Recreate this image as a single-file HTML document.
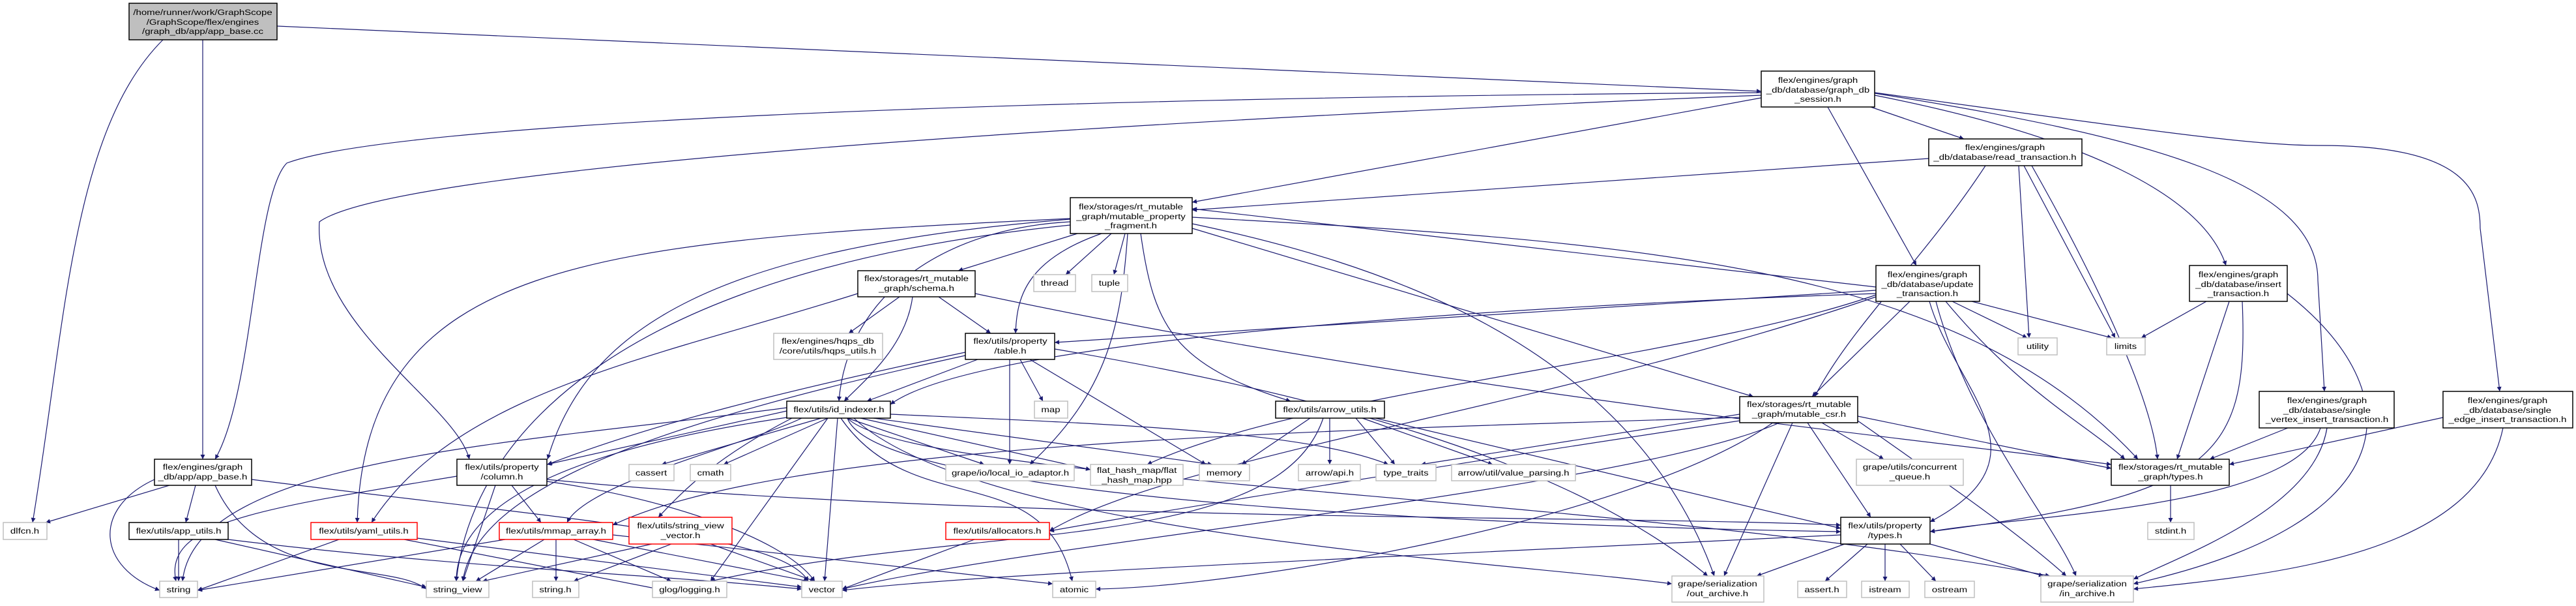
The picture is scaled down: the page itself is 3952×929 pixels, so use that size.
<!DOCTYPE html>
<html><head><meta charset="utf-8"><style>
html,body{margin:0;padding:0;background:#fff;}
svg{display:block;}
text{font-family:"Liberation Sans",sans-serif;font-size:12px;fill:#000;text-anchor:middle;}
.e{fill:none;stroke:#191970;stroke-width:1.2;marker-end:url(#a);}
.b{fill:#fff;stroke:#000;stroke-width:1.5;}
.g{fill:#fff;stroke:#bfbfbf;stroke-width:1.5;}
.r{fill:#fff;stroke:#ff0000;stroke-width:1.5;}
</style></head><body>
<svg width="3952" height="929" viewBox="0 0 3952 929" xmlns="http://www.w3.org/2000/svg">
<defs><marker id="a" viewBox="0 0 10 10" refX="10" refY="5" markerWidth="9" markerHeight="7" markerUnits="userSpaceOnUse" orient="auto"><path d="M0,0 L10,5 L0,10 z" fill="#191970"/></marker></defs>
<g>
<path class="e" d="M425 40 L2702 140"/>
<path class="e" d="M250 61 C110 200 100 500 50 801"/>
<path class="e" d="M311 61 L311 704"/>
<path class="e" d="M2702 142 C1500 150 600 190 440 250 C390 300 390 600 330 704"/>
<path class="e" d="M2702 146 C1600 190 600 260 490 340 C480 500 700 620 720 704"/>
<path class="e" d="M2702 150 L1829 310"/>
<path class="e" d="M2870 164 L3013 213"/>
<path class="e" d="M2804 164 L2940 407"/>
<path class="e" d="M2876 146 C3200 210 3380 300 3415 407"/>
<path class="e" d="M2876 143 C3300 210 3556 280 3556 430 L3566 600"/>
<path class="e" d="M2876 142 C3300 200 3450 223 3560 223 C3790 223 3805 300 3805 350 L3835 600"/>
<path class="e" d="M2959 243 L1829 322"/>
<path class="e" d="M3046 254 C2950 400 2840 500 2784 608"/>
<path class="e" d="M3097 254 L3113 518"/>
<path class="e" d="M3105 254 L3245 518"/>
<path class="e" d="M3117 254 C3200 400 3300 600 3310 704"/>
<path class="e" d="M1653 358 L1470 415"/>
<path class="e" d="M1705 358 L1635 421"/>
<path class="e" d="M1726 358 L1709 421"/>
<path class="e" d="M1690 358 C1570 400 1560 460 1558 511"/>
<path class="e" d="M1642 340 C1450 350 1300 450 1287 615"/>
<path class="e" d="M1642 335 C900 370 560 400 548 801"/>
<path class="e" d="M1642 336 C1100 380 900 500 840 704"/>
<path class="e" d="M1730 358 C1720 500 1700 600 1580 712"/>
<path class="e" d="M1750 358 C1770 500 1800 560 1980 615"/>
<path class="e" d="M1829 350 L2690 608"/>
<path class="e" d="M1829 333 C2500 370 3000 400 3280 704"/>
<path class="e" d="M1829 343 C2100 400 2500 520 2630 883"/>
<path class="e" d="M1642 345 C900 420 720 700 700 891"/>
<path class="e" d="M1380 455 L1302 511"/>
<path class="e" d="M1440 455 L1520 511"/>
<path class="e" d="M1400 455 C1390 530 1330 580 1295 615"/>
<path class="e" d="M1496 450 C2200 600 3000 680 3239 712"/>
<path class="e" d="M1316 450 C1000 550 700 600 570 801"/>
<path class="e" d="M1565 551 L1600 615"/>
<path class="e" d="M1580 551 L1850 712"/>
<path class="e" d="M1549 551 L1549 712"/>
<path class="e" d="M1500 551 L1330 615"/>
<path class="e" d="M1481 540 C1200 600 1000 650 840 712"/>
<path class="e" d="M1618 535 C2000 600 2400 700 2620 883"/>
<path class="e" d="M1481 545 C1000 650 730 750 710 891"/>
<path class="e" d="M2878 440 L1829 320"/>
<path class="e" d="M2930 462 L2780 608"/>
<path class="e" d="M2995 462 L3110 518"/>
<path class="e" d="M3025 462 L3240 518"/>
<path class="e" d="M2985 462 C3100 600 3200 650 3260 704"/>
<path class="e" d="M2960 462 C3000 600 3150 700 2961 800"/>
<path class="e" d="M2970 462 C3020 650 3150 800 3185 883"/>
<path class="e" d="M2878 445 L1618 525"/>
<path class="e" d="M2878 450 C2300 470 1500 520 1366 620"/>
<path class="e" d="M2878 452 C2600 550 2000 600 1760 712"/>
<path class="e" d="M2878 455 C2400 620 1800 700 1610 814"/>
<path class="e" d="M3385 462 L3285 518"/>
<path class="e" d="M3420 462 L3340 704"/>
<path class="e" d="M3440 462 C3450 700 3400 760 2961 815"/>
<path class="e" d="M3509 450 C3700 600 3700 800 3273 895"/>
<path class="e" d="M3510 656 L3390 704"/>
<path class="e" d="M3560 656 C3520 780 3100 790 2961 815"/>
<path class="e" d="M3570 656 C3550 780 3350 850 3273 888"/>
<path class="e" d="M3748 640 L3420 712"/>
<path class="e" d="M3840 656 C3800 850 3500 880 3273 903"/>
<path class="e" d="M3330 744 L3330 801"/>
<path class="e" d="M2795 648 L2890 704"/>
<path class="e" d="M2850 638 L3239 718"/>
<path class="e" d="M2773 648 L2870 793"/>
<path class="e" d="M2750 648 L2645 883"/>
<path class="e" d="M2850 645 C3000 750 3100 820 3170 883"/>
<path class="e" d="M2669 640 C2000 660 1200 680 940 805"/>
<path class="e" d="M2669 645 C2300 700 1800 780 1610 814"/>
<path class="e" d="M2720 648 C2500 800 1900 900 1681 903"/>
<path class="e" d="M2730 648 C2500 750 1600 830 1292 903"/>
<path class="e" d="M2669 635 L2180 712"/>
<path class="e" d="M2010 641 L1905 712"/>
<path class="e" d="M2040 641 L2040 712"/>
<path class="e" d="M2080 641 L2140 712"/>
<path class="e" d="M2090 641 L2290 712"/>
<path class="e" d="M2110 641 L2824 810"/>
<path class="e" d="M2030 641 C1960 850 1500 800 1090 891"/>
<path class="e" d="M1260 641 L1015 712"/>
<path class="e" d="M1270 641 L1110 712"/>
<path class="e" d="M1300 641 L1510 712"/>
<path class="e" d="M1320 641 L1673 720"/>
<path class="e" d="M1340 641 L1860 712"/>
<path class="e" d="M1366 635 C1700 650 2000 660 2130 712"/>
<path class="e" d="M1207 630 L839 712"/>
<path class="e" d="M1230 641 C1150 680 900 740 870 801"/>
<path class="e" d="M1215 641 C1100 700 1050 750 1010 793"/>
<path class="e" d="M1285 641 L1265 891"/>
<path class="e" d="M1270 641 L1090 891"/>
<path class="e" d="M1300 641 C1350 780 2500 810 2824 815"/>
<path class="e" d="M1310 641 C1500 820 2300 860 2565 895"/>
<path class="e" d="M1300 641 C1400 740 2500 760 3145 883"/>
<path class="e" d="M1290 641 C1400 800 1600 700 1645 891"/>
<path class="e" d="M1207 625 C800 680 300 700 280 891"/>
<path class="e" d="M1207 640 C800 700 700 800 700 891"/>
<path class="e" d="M785 744 L830 801"/>
<path class="e" d="M760 744 L710 891"/>
<path class="e" d="M701 730 C400 780 250 800 270 891"/>
<path class="e" d="M839 735 C1500 800 2500 790 2824 805"/>
<path class="e" d="M839 738 C1000 760 1200 820 1250 891"/>
<path class="e" d="M260 744 L70 801"/>
<path class="e" d="M300 744 L285 801"/>
<path class="e" d="M237 735 C140 780 150 870 245 905"/>
<path class="e" d="M330 744 C400 900 600 860 654 903"/>
<path class="e" d="M386 735 C900 800 1200 820 1240 891"/>
<path class="e" d="M274 827 L274 891"/>
<path class="e" d="M330 827 L654 900"/>
<path class="e" d="M350 827 C700 870 1000 880 1230 903"/>
<path class="e" d="M520 827 L303 905"/>
<path class="e" d="M640 825 L1230 900"/>
<path class="e" d="M620 827 L1010 903"/>
<path class="e" d="M775 827 L303 905"/>
<path class="e" d="M835 827 L730 891"/>
<path class="e" d="M853 827 L853 891"/>
<path class="e" d="M880 827 L1030 891"/>
<path class="e" d="M910 827 L1240 891"/>
<path class="e" d="M940 820 L1615 895"/>
<path class="e" d="M1000 834 L740 891"/>
<path class="e" d="M1030 834 L880 891"/>
<path class="e" d="M1090 834 L1250 891"/>
<path class="e" d="M1495 827 L1292 903"/>
<path class="e" d="M2830 834 L2695 883"/>
<path class="e" d="M2865 834 L2800 891"/>
<path class="e" d="M2892 834 L2892 891"/>
<path class="e" d="M2915 834 L2970 891"/>
<path class="e" d="M2961 834 L3135 883"/>
<path class="e" d="M2824 820 C2000 860 1500 880 1292 905"/>
</g>
<g>
<!-- nodes -->
<rect x="198" y="5" width="227" height="56" fill="#bfbfbf" stroke="#000" stroke-width="1.5"/>
<text transform="translate(311,23) scale(1.25,1)">/home/runner/work/GraphScope</text>
<text transform="translate(311,38) scale(1.25,1)">/GraphScope/flex/engines</text>
<text transform="translate(311,52) scale(1.25,1)">/graph_db/app/app_base.cc</text>

<rect class="b" x="2702" y="109" width="174" height="55"/>
<text transform="translate(2789,127) scale(1.25,1)">flex/engines/graph</text>
<text transform="translate(2789,142) scale(1.25,1)">_db/database/graph_db</text>
<text transform="translate(2789,156) scale(1.25,1)">_session.h</text>

<rect class="b" x="2959" y="213" width="235" height="41"/>
<text transform="translate(3076,230) scale(1.25,1)">flex/engines/graph</text>
<text transform="translate(3076,245) scale(1.25,1)">_db/database/read_transaction.h</text>

<rect class="b" x="1642" y="303" width="187" height="55"/>
<text transform="translate(1735,321) scale(1.25,1)">flex/storages/rt_mutable</text>
<text transform="translate(1735,336) scale(1.25,1)">_graph/mutable_property</text>
<text transform="translate(1735,350) scale(1.25,1)">_fragment.h</text>

<rect class="b" x="2878" y="407" width="159" height="55"/>
<text transform="translate(2957,425) scale(1.25,1)">flex/engines/graph</text>
<text transform="translate(2957,440) scale(1.25,1)">_db/database/update</text>
<text transform="translate(2957,454) scale(1.25,1)">_transaction.h</text>

<rect class="b" x="3359" y="407" width="150" height="55"/>
<text transform="translate(3434,425) scale(1.25,1)">flex/engines/graph</text>
<text transform="translate(3434,440) scale(1.25,1)">_db/database/insert</text>
<text transform="translate(3434,454) scale(1.25,1)">_transaction.h</text>

<rect class="b" x="1316" y="415" width="180" height="40"/>
<text transform="translate(1406,431) scale(1.25,1)">flex/storages/rt_mutable</text>
<text transform="translate(1406,446) scale(1.25,1)">_graph/schema.h</text>

<rect class="g" x="1586" y="421" width="64" height="26"/>
<text transform="translate(1618,438) scale(1.25,1)">thread</text>
<rect class="g" x="1675" y="421" width="55" height="26"/>
<text transform="translate(1702,438) scale(1.25,1)">tuple</text>

<rect class="g" x="1187" y="511" width="167" height="40"/>
<text transform="translate(1270,527) scale(1.25,1)">flex/engines/hqps_db</text>
<text transform="translate(1270,542) scale(1.25,1)">/core/utils/hqps_utils.h</text>

<rect class="b" x="1481" y="511" width="137" height="40"/>
<text transform="translate(1550,527) scale(1.25,1)">flex/utils/property</text>
<text transform="translate(1550,542) scale(1.25,1)">/table.h</text>

<rect class="g" x="3096" y="518" width="60" height="26"/>
<text transform="translate(3126,535) scale(1.25,1)">utility</text>
<rect class="g" x="3232" y="518" width="59" height="26"/>
<text transform="translate(3261,535) scale(1.25,1)">limits</text>

<rect class="b" x="3466" y="600" width="207" height="56"/>
<text transform="translate(3570,618) scale(1.25,1)">flex/engines/graph</text>
<text transform="translate(3570,633) scale(1.25,1)">_db/database/single</text>
<text transform="translate(3570,647) scale(1.25,1)">_vertex_insert_transaction.h</text>

<rect class="b" x="3748" y="600" width="199" height="56"/>
<text transform="translate(3847,618) scale(1.25,1)">flex/engines/graph</text>
<text transform="translate(3847,633) scale(1.25,1)">_db/database/single</text>
<text transform="translate(3847,647) scale(1.25,1)">_edge_insert_transaction.h</text>

<rect class="b" x="2669" y="608" width="181" height="40"/>
<text transform="translate(2760,624) scale(1.25,1)">flex/storages/rt_mutable</text>
<text transform="translate(2760,639) scale(1.25,1)">_graph/mutable_csr.h</text>

<rect class="b" x="1207" y="615" width="159" height="26"/>
<text transform="translate(1287,632) scale(1.25,1)">flex/utils/id_indexer.h</text>
<rect class="g" x="1587" y="615" width="51" height="26"/>
<text transform="translate(1612,632) scale(1.25,1)">map</text>
<rect class="b" x="1957" y="615" width="167" height="26"/>
<text transform="translate(2040,632) scale(1.25,1)">flex/utils/arrow_utils.h</text>

<rect class="b" x="237" y="704" width="149" height="40"/>
<text transform="translate(311,720) scale(1.25,1)">flex/engines/graph</text>
<text transform="translate(311,735) scale(1.25,1)">_db/app/app_base.h</text>

<rect class="b" x="701" y="704" width="138" height="40"/>
<text transform="translate(770,720) scale(1.25,1)">flex/utils/property</text>
<text transform="translate(770,735) scale(1.25,1)">/column.h</text>

<rect class="g" x="965" y="712" width="69" height="25"/>
<text transform="translate(999,729) scale(1.25,1)">cassert</text>
<rect class="g" x="1059" y="712" width="62" height="25"/>
<text transform="translate(1090,729) scale(1.25,1)">cmath</text>
<rect class="g" x="1451" y="712" width="197" height="25"/>
<text transform="translate(1550,729) scale(1.25,1)">grape/io/local_io_adaptor.h</text>
<rect class="g" x="1673" y="712" width="142" height="32"/>
<text transform="translate(1744,725) scale(1.25,1)">flat_hash_map/flat</text>
<text transform="translate(1744,740) scale(1.25,1)">_hash_map.hpp</text>
<rect class="g" x="1840" y="712" width="77" height="25"/>
<text transform="translate(1878,729) scale(1.25,1)">memory</text>
<rect class="g" x="1992" y="712" width="95" height="25"/>
<text transform="translate(2040,729) scale(1.25,1)">arrow/api.h</text>
<rect class="g" x="2111" y="712" width="92" height="25"/>
<text transform="translate(2157,729) scale(1.25,1)">type_traits</text>
<rect class="g" x="2227" y="712" width="190" height="25"/>
<text transform="translate(2322,729) scale(1.25,1)">arrow/util/value_parsing.h</text>

<rect class="g" x="2848" y="704" width="164" height="40"/>
<text transform="translate(2930,720) scale(1.25,1)">grape/utils/concurrent</text>
<text transform="translate(2930,735) scale(1.25,1)">_queue.h</text>

<rect class="b" x="3239" y="704" width="181" height="40"/>
<text transform="translate(3330,720) scale(1.25,1)">flex/storages/rt_mutable</text>
<text transform="translate(3330,735) scale(1.25,1)">_graph/types.h</text>

<rect class="g" x="5" y="801" width="67" height="26"/>
<text transform="translate(38,818) scale(1.25,1)">dlfcn.h</text>
<rect class="b" x="198" y="801" width="152" height="26"/>
<text transform="translate(274,818) scale(1.25,1)">flex/utils/app_utils.h</text>
<rect class="r" x="477" y="801" width="163" height="26"/>
<text transform="translate(558,818) scale(1.25,1)">flex/utils/yaml_utils.h</text>
<rect class="r" x="766" y="801" width="174" height="26"/>
<text transform="translate(853,818) scale(1.25,1)">flex/utils/mmap_array.h</text>
<rect class="r" x="965" y="793" width="158" height="41"/>
<text transform="translate(1044,810) scale(1.25,1)">flex/utils/string_view</text>
<text transform="translate(1044,825) scale(1.25,1)">_vector.h</text>
<rect class="r" x="1451" y="801" width="159" height="26"/>
<text transform="translate(1530,818) scale(1.25,1)">flex/utils/allocators.h</text>

<rect class="b" x="2824" y="793" width="137" height="41"/>
<text transform="translate(2892,810) scale(1.25,1)">flex/utils/property</text>
<text transform="translate(2892,825) scale(1.25,1)">/types.h</text>
<rect class="g" x="3295" y="801" width="71" height="26"/>
<text transform="translate(3330,818) scale(1.25,1)">stdint.h</text>

<rect class="g" x="245" y="891" width="58" height="25"/>
<text transform="translate(274,908) scale(1.25,1)">string</text>
<rect class="g" x="654" y="891" width="96" height="25"/>
<text transform="translate(702,908) scale(1.25,1)">string_view</text>
<rect class="g" x="817" y="891" width="71" height="25"/>
<text transform="translate(852,908) scale(1.25,1)">string.h</text>
<rect class="g" x="1001" y="891" width="114" height="25"/>
<text transform="translate(1058,908) scale(1.25,1)">glog/logging.h</text>
<rect class="g" x="1230" y="891" width="62" height="25"/>
<text transform="translate(1261,908) scale(1.25,1)">vector</text>
<rect class="g" x="1615" y="891" width="66" height="25"/>
<text transform="translate(1648,908) scale(1.25,1)">atomic</text>
<rect class="g" x="2565" y="883" width="141" height="40"/>
<text transform="translate(2635,899) scale(1.25,1)">grape/serialization</text>
<text transform="translate(2635,914) scale(1.25,1)">/out_archive.h</text>
<rect class="g" x="2758" y="891" width="75" height="25"/>
<text transform="translate(2795,908) scale(1.25,1)">assert.h</text>
<rect class="g" x="2856" y="891" width="73" height="25"/>
<text transform="translate(2892,908) scale(1.25,1)">istream</text>
<rect class="g" x="2953" y="891" width="76" height="25"/>
<text transform="translate(2991,908) scale(1.25,1)">ostream</text>
<rect class="g" x="3131" y="883" width="142" height="40"/>
<text transform="translate(3202,899) scale(1.25,1)">grape/serialization</text>
<text transform="translate(3202,914) scale(1.25,1)">/in_archive.h</text>
</g>
</svg>
</body></html>
